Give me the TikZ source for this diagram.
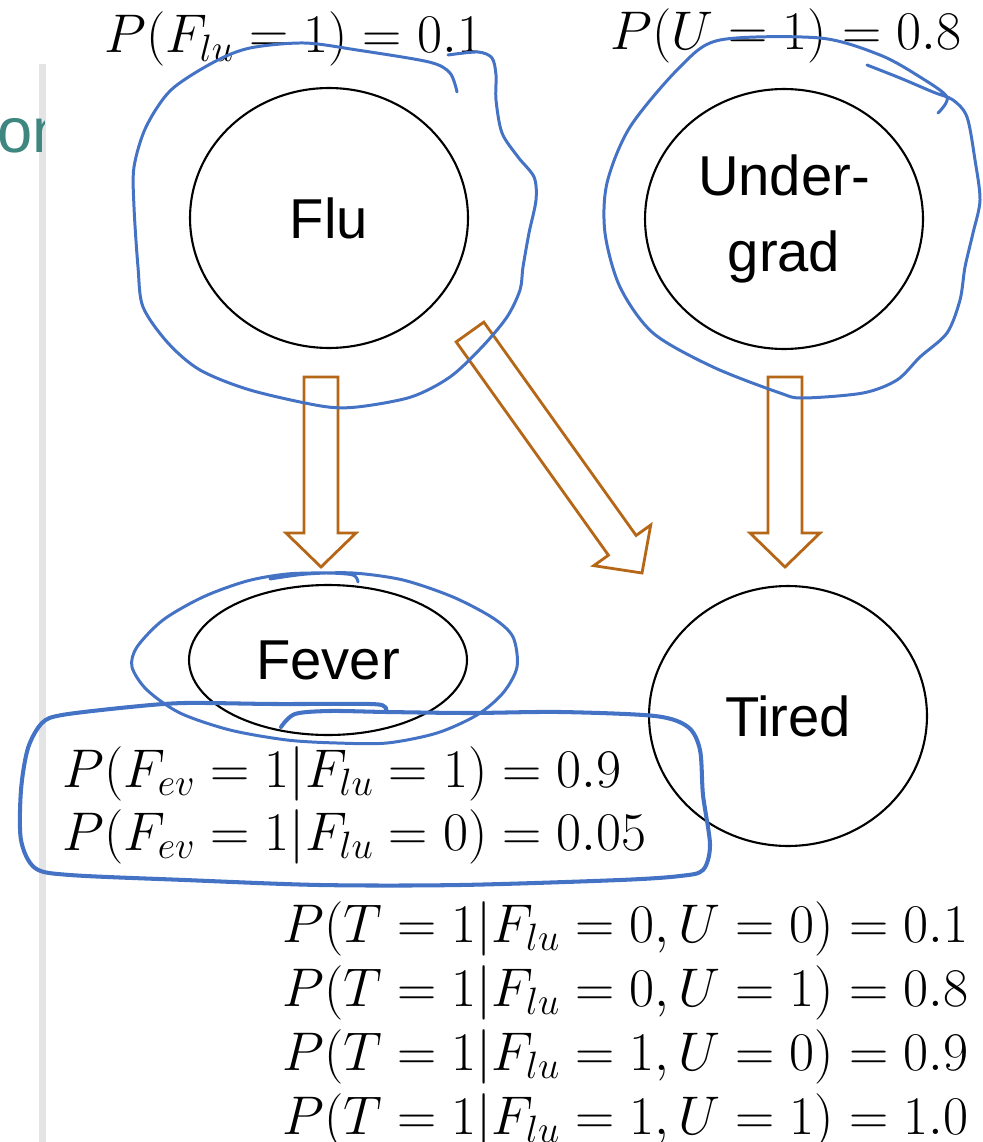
\RequirePackage{fix-cm}
\documentclass[tikz,border=0pt]{standalone}
\usepackage{amsmath}
\usepackage{fontspec}
\newfontfamily\labelfont{Liberation Sans}
\usepackage{xcolor}
\usepackage{tikz}
\usetikzlibrary{calc,shapes.geometric}

\definecolor{inkblue}{RGB}{68,114,196}
\definecolor{arrowbrown}{RGB}{181,103,23}
\definecolor{sidegray}{RGB}{228,228,228}
\definecolor{sideteal}{RGB}{62,135,128}

\begin{document}
\begin{tikzpicture}[x=0.02cm, y=-0.02cm,
    var/.style={ellipse, draw, line width=1.2pt, inner sep=0pt, minimum width=5.56cm, minimum height=5.2cm, align=center, font=\labelfont\fontsize{32}{43}\selectfont},
    prob/.style={inner sep=0pt, anchor=base west, font=\fontsize{31}{36}\selectfont},
    blockarrow/.style={draw=arrowbrown, line width=1.6pt, line join=miter, to path={
        ($(\tikztostart)!0.34cm!90:(\tikztotarget)$)
        -- ($(\tikztotarget)!0.68cm!(\tikztostart)!0.34cm!-90:(\tikztostart)$)
        -- ($(\tikztotarget)!0.68cm!(\tikztostart)!0.70cm!-90:(\tikztostart)$)
        -- (\tikztotarget)
        -- ($(\tikztotarget)!0.68cm!(\tikztostart)!0.70cm!90:(\tikztostart)$)
        -- ($(\tikztotarget)!0.68cm!(\tikztostart)!0.34cm!90:(\tikztostart)$)
        -- ($(\tikztostart)!0.34cm!-90:(\tikztotarget)$) -- cycle}},
    scribble/.style={draw=inkblue, line width=1.7pt, line cap=round, line join=round}
]
\useasboundingbox (0,0) rectangle (983,1142);

% slide margin
\fill[sidegray] (39,64) rectangle (46,1142);
\begin{scope}
\clip (0,0) rectangle (44,1142);
\node[anchor=base west, inner sep=0pt, text=sideteal, font=\labelfont\fontsize{36}{40}\selectfont] (side) at (-3,153) {on};
\end{scope}

% variables
\node[var] (flu) at (329,218) {Flu};
\node[var] (ugrad) at (784,219) {Under-\\grad};
\node[var, minimum height=3cm] (fever) at (328,660) {Fever};
\node[var] (tired) at (788,716) {Tired};

% edges
\coordinate (flu-out) at (321,377);
\coordinate (fev-in) at (321,567);
\coordinate (flu-out2) at (470,332);
\coordinate (tir-in) at (642,573);
\coordinate (ug-out) at (785,377);
\coordinate (tir-in2) at (785,567);
\draw[blockarrow] (flu-out) to (fev-in);
\draw[blockarrow] (flu-out2) to (tir-in);
\draw[blockarrow] (ug-out) to (tir-in2);

% tables
\node[prob] (pflu) at (104,53) {$P(F_{lu}=1)=0.1$};
\node[prob] (pug) at (610,50) {$P(U=1)=0.8$};
\node[prob] (pfev1) at (62,787) {$P(F_{ev}=1|F_{lu}=1)=0.9$};
\node[prob] (pfev0) at (62,850) {$P(F_{ev}=1|F_{lu}=0)=0.05$};
\foreach \f/\u/\p [count=\i] in {0/0/0.1, 0/1/0.8, 1/0/0.9, 1/1/1.0}
  \node[prob] (ptired\i) at (282,878+64*\i) {$P(T=1|F_{lu}=\f,U=\u)=\p$};

% pen marks
\draw[scribble] plot[smooth, tension=0.5] coordinates {(448,55) (478,52) (492,58) (496,75) (496,100) (502,133) (518,157) (534,177) (536,200) (529,233) (523,267) (520,290) (507,317) (482,347) (450,377) (411,397) (357,407) (321,406) (250,390) (200,370) (168,343) (143,307) (138,267) (134,207) (134,167) (146,127) (171,90) (214,62) (250,48) (304,43) (357,50) (429,62) (450,73) (457,92)};
\draw[scribble] plot[smooth, tension=0.5] coordinates {(867,65) (900,78) (933,92) (953,100) (967,117) (975,160) (980,200) (973,233) (965,267) (960,300) (947,333) (920,357) (897,380) (863,393) (803,398) (780,393) (713,367) (653,333) (620,287) (605,233) (607,183) (630,127) (680,67) (720,40) (820,38) (880,55) (920,77) (947,97) (938,113)};
\draw[scribble] plot[smooth, tension=0.5] coordinates {(358,582) (353,575) (327,573) (287,574) (247,581) (203,597) (163,620) (137,647) (132,667) (147,690) (180,713) (230,730) (287,740) (337,743) (387,743) (437,733) (477,715) (503,693) (517,667) (513,637) (493,618) (453,597) (403,580) (353,573) (307,574) (270,579)};
\draw[scribble, line width=2.3pt] plot[smooth, tension=0.5] coordinates {(281,727) (295,714) (330,711) (387,712) (470,713) (560,712) (655,716) (688,727) (700,750) (703,795) (710,845) (703,870) (680,876) (620,880) (460,885) (320,885) (185,880) (70,875) (35,868) (21,840) (21,790) (28,748) (42,723) (62,715) (130,707) (185,703) (275,704) (370,704) (385,707) (386,712)};
\end{tikzpicture}
\end{document}
